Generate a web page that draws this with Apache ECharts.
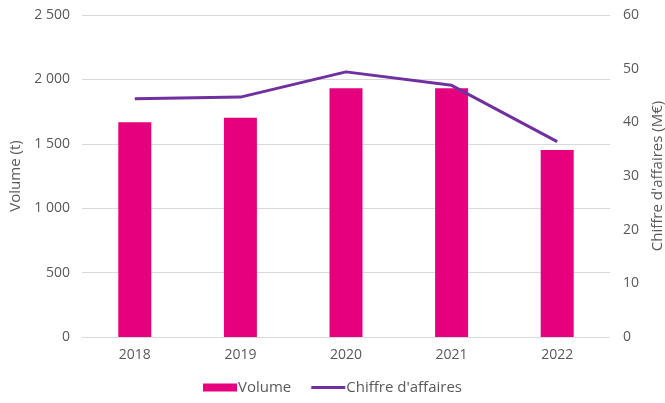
<!DOCTYPE html>
<html>
<head>
<meta charset="utf-8">
<script src="https://cdn.jsdelivr.net/npm/echarts@6/dist/echarts.min.js"></script>
<style>
  html, body { margin: 0; padding: 0; background: #fff; }
  #main { width: 665px; height: 403px; }
</style>
</head>
<body>
<div id="main"></div>
<script>
var years = ['2018', '2019', '2020', '2021', '2022'];
var volume = [1667, 1703, 1931, 1931, 1452];
var chiffre = [44.4, 44.7, 49.4, 46.9, 36.4];

var font = '"Open Sans", "Noto Sans", sans-serif';
var grey = '#595959';

var myChart = echarts.init(document.getElementById('main'));

var option = {
    animation: false,
    textStyle: { fontFamily: font },
    grid: { left: 82, right: 55, top: 15, bottom: 66, outerBoundsMode: 'none', containLabel: false },
    legend: {
        bottom: 3,
        left: 'center',
        itemGap: 20,
        itemWidth: 34,
        itemHeight: 8,
        textStyle: { color: grey, fontSize: 15, fontFamily: font, padding: [0, 0, 0, -4] },
        data: [
            { name: 'Volume', icon: 'rect' },
            { name: "Chiffre d'affaires", icon: 'path://M0,0 L34,0 L34,3 L0,3 Z' }
        ]
    },
    xAxis: {
        type: 'category',
        data: years,
        axisLine: { show: false },
        axisTick: { show: false },
        axisLabel: { color: grey, fontSize: 14, margin: 11 }
    },
    yAxis: [{
        type: 'value',
        min: 0, max: 2500, interval: 500,
        name: 'Volume (t)',
        nameLocation: 'middle',
        nameGap: 58,
        nameTextStyle: { color: grey, fontSize: 15 },
        axisLabel: {
            color: grey, fontSize: 14, margin: 12,
            formatter: function (v) { return String(v).replace(/\B(?=(\d{3})+(?!\d))/g, ' '); }
        },
        splitLine: { lineStyle: { color: '#d9d9d9' } }
    }, {
        type: 'value',
        min: 0, max: 60, interval: 10,
        name: "Chiffre d'affaires (M€)",
        nameLocation: 'middle',
        nameGap: 38,
        nameRotate: 90,
        nameTextStyle: { color: grey, fontSize: 15 },
        axisLabel: { color: grey, fontSize: 14, margin: 13 },
        splitLine: { show: false }
    }],
    series: [{
        name: 'Volume',
        type: 'bar',
        data: volume,
        barWidth: 33,
        itemStyle: { color: '#e6007e' }
    }, {
        name: "Chiffre d'affaires",
        type: 'line',
        yAxisIndex: 1,
        data: chiffre,
        symbol: 'none',
        lineStyle: { color: '#7030a0', width: 3 },
        itemStyle: { color: '#7030a0' }
    }]
};
myChart.setOption(option);
</script>
</body>
</html>
